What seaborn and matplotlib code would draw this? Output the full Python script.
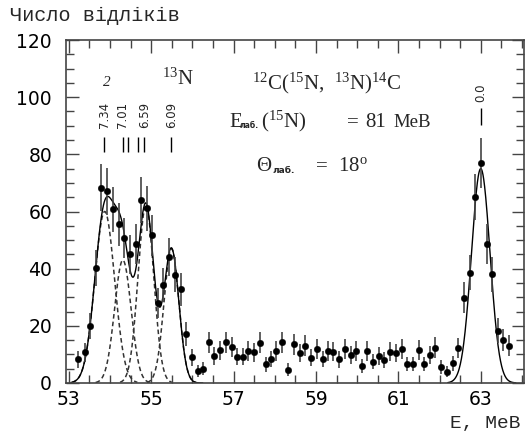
import numpy as np
import pandas as pd
import matplotlib
matplotlib.use("Agg")
import matplotlib.pyplot as plt
import seaborn as sns
from matplotlib.ticker import MultipleLocator

# ---------------- data ----------------
energy = [53.23, 53.39, 53.51, 53.65, 53.79, 53.92, 54.06, 54.21, 54.34, 54.48,
          54.62, 54.75, 54.89, 55.03, 55.16, 55.29, 55.43, 55.57, 55.71, 55.84,
          55.98, 56.13, 56.26, 56.40, 56.53, 56.67, 56.82, 56.95, 57.09, 57.22,
          57.36, 57.50, 57.64, 57.78, 57.91, 58.04, 58.18, 58.32, 58.46, 58.60,
          58.74, 58.87, 59.02, 59.16, 59.29, 59.42, 59.56, 59.70, 59.84, 59.97,
          60.11, 60.25, 60.39, 60.53, 60.66, 60.80, 60.94, 61.08, 61.21, 61.35,
          61.49, 61.63, 61.77, 61.90, 62.04, 62.18, 62.32, 62.45, 62.59, 62.73,
          62.87, 63.00, 63.14, 63.28, 63.42, 63.55, 63.69]
counts = [8.3, 10.8, 20.0, 40.2, 68.3, 67.1, 60.8, 55.5, 50.7, 45.0,
          48.6, 64.0, 61.1, 51.7, 27.9, 34.3, 44.0, 37.9, 32.8, 17.2,
          9.0, 4.3, 5.0, 14.2, 9.4, 11.4, 14.2, 12.6, 9.2, 9.2,
          11.2, 10.7, 14.1, 6.5, 8.4, 11.2, 14.2, 4.7, 13.5, 10.4,
          13.1, 8.9, 11.8, 8.4, 11.2, 10.9, 8.3, 11.8, 9.8, 11.2,
          5.9, 11.2, 7.5, 9.4, 8.0, 10.9, 10.4, 11.8, 6.6, 6.6,
          11.5, 6.6, 9.8, 12.4, 5.7, 4.0, 6.9, 12.1, 29.8, 38.6,
          65.2, 77.1, 48.5, 38.0, 18.3, 15.0, 13.1]

# Gaussian fit components (excited states group) and ground state
peak_centers = [53.87, 54.31, 54.87, 55.49]
peak_heights = [60.0, 43.0, 62.0, 47.0]
peak_sigmas = [0.24, 0.20, 0.19, 0.18]
gs_center = 63.0
gs_height = 75.0
gs_sigma = 0.225

level_labels = ["7.34", "7.01", "6.59", "6.09"]
level_label_pos = [53.86, 54.31, 54.84, 55.49]
level_tick_pos = [53.86, 54.31, 54.44, 54.67, 54.82, 55.48]
gs_label = "0.0"

xtick_values = [53, 55, 57, 59, 61, 63]
ytick_values = [0, 20, 40, 60, 80, 100, 120]

# ---------------- figure ----------------
sns.set_theme(style="ticks")
plt.rcParams["font.family"] = ["DejaVu Sans"]
plt.rcParams["mathtext.fontset"] = "custom"
plt.rcParams["mathtext.rm"] = "Liberation Serif"
plt.rcParams["mathtext.it"] = "Liberation Serif:italic"

W, H = 526, 432
fig = plt.figure(figsize=(W / 100, H / 100), dpi=100)
ax = fig.add_axes([66 / W, 1 - 383 / H, (524 - 66) / W, (383 - 40) / H])

def gauss(x, a, m, s):
    return a * np.exp(-0.5 * ((x - m) / s) ** 2)

# dashed components
for a, m, s in zip(peak_heights, peak_centers, peak_sigmas):
    xx = np.linspace(m - 3.3 * s, m + 3.3 * s, 200)
    sns.lineplot(x=xx, y=gauss(xx, a, m, s), ax=ax, color="#333333",
                 lw=1.1, linestyle=(0, (3, 2)), estimator=None)

# solid total fit (two segments)
xl = np.linspace(53.05, 56.25, 500)
yl = sum(gauss(xl, a, m, s) for a, m, s in zip(peak_heights, peak_centers, peak_sigmas))
sns.lineplot(x=xl, y=yl, ax=ax, color="black", lw=1.0, estimator=None)
xr = np.linspace(62.2, 63.85, 300)
sns.lineplot(x=xr, y=gauss(xr, gs_height, gs_center, gs_sigma), ax=ax,
             color="black", lw=1.0, estimator=None)

# data points with statistical error bars
df = pd.DataFrame({"E": energy, "N": counts})
err = np.sqrt(df["N"].to_numpy())
ax.vlines(df["E"], df["N"] - err, df["N"] + err, color="#444444", lw=1.2, zorder=3)
sns.scatterplot(data=df, x="E", y="N", ax=ax, color="black", s=22,
                edgecolor="black", linewidth=0.3, zorder=4)

# level markers
ax.vlines(level_tick_pos, 80.8, 86.1, color="black", lw=1.0)
ax.vlines([gs_center], 90.3, 96.2, color="black", lw=1.0)
for lab, xp in zip(level_labels, level_label_pos):
    ax.text(xp, 89.2, lab, rotation=90, ha="center", va="bottom", fontsize=8.5)
ax.text(gs_center, 98.3, gs_label, rotation=90, ha="center", va="bottom", fontsize=8.5)

# axes formatting
ax.set_xlim(52.93, 64.05)
ax.set_ylim(0, 120)
ax.set_xticks(xtick_values)
ax.set_yticks(ytick_values)
ax.xaxis.set_minor_locator(MultipleLocator(0.5))
ax.yaxis.set_minor_locator(MultipleLocator(5))
ax.tick_params(which="both", direction="in", top=True, right=True,
               color="#444444", labelsize=13.5, labelcolor="black")
ax.tick_params(which="major", length=9, width=1.0)
ax.tick_params(which="minor", length=6, width=1.0)
ax.tick_params(axis="y", pad=10)
ax.tick_params(axis="x", pad=5)
ax.set_xlabel("")
ax.set_ylabel("")
for sp in ax.spines.values():
    sp.set_visible(True)
    sp.set_color("#444444")
    sp.set_linewidth(1.2)

# ---------------- texts (pixel placement) ----------------
def P(x, y):
    return x / W, 1 - y / H

serif = "Liberation Serif"
mono = "Liberation Mono"

fig.text(*P(10, 21), "Число відліків", family=mono, fontsize=14.5, va="baseline")
fig.text(*P(521, 428), "E, MeB", family=mono, fontsize=14, va="baseline", ha="right")

fig.text(*P(162, 85), r"$^{\mathrm{13}}$N", family=serif, fontsize=15, va="baseline")
fig.text(*P(107, 83), "2", family=serif, style="italic", fontsize=11,
         ha="center", va="center")

fig.text(*P(252, 89), r"$^{\mathrm{12}}$C($^{\mathrm{15}}$N,  $^{\mathrm{13}}$N)$^{\mathrm{14}}$C",
         family=serif, fontsize=15, va="baseline")

fig.text(*P(229, 127), "E", family=serif, fontsize=15, va="baseline")
fig.text(*P(240, 128), "лаб.", family="DejaVu Sans", weight="bold", fontsize=5.5, va="baseline")
fig.text(*P(261, 127), r"($^{\mathrm{15}}$N)", family=serif, fontsize=15, va="baseline")
fig.text(*P(347, 127), "=", family=serif, fontsize=15, va="baseline")
fig.text(*P(365, 127), "81", family=serif, fontsize=15, va="baseline")
fig.text(*P(393, 127), "MeB", family=serif, fontsize=13.5, va="baseline")

fig.text(*P(256, 171), "Θ", family=serif, fontsize=15, va="baseline")
fig.text(*P(272, 173), "лаб.", family="DejaVu Sans", weight="bold", fontsize=6.5, va="baseline")
fig.text(*P(316, 171), "=", family=serif, fontsize=15, va="baseline")
fig.text(*P(338, 171), r"18$^{\mathrm{o}}$", family=serif, fontsize=15, va="baseline")

fig.savefig("out.png", dpi=100)
